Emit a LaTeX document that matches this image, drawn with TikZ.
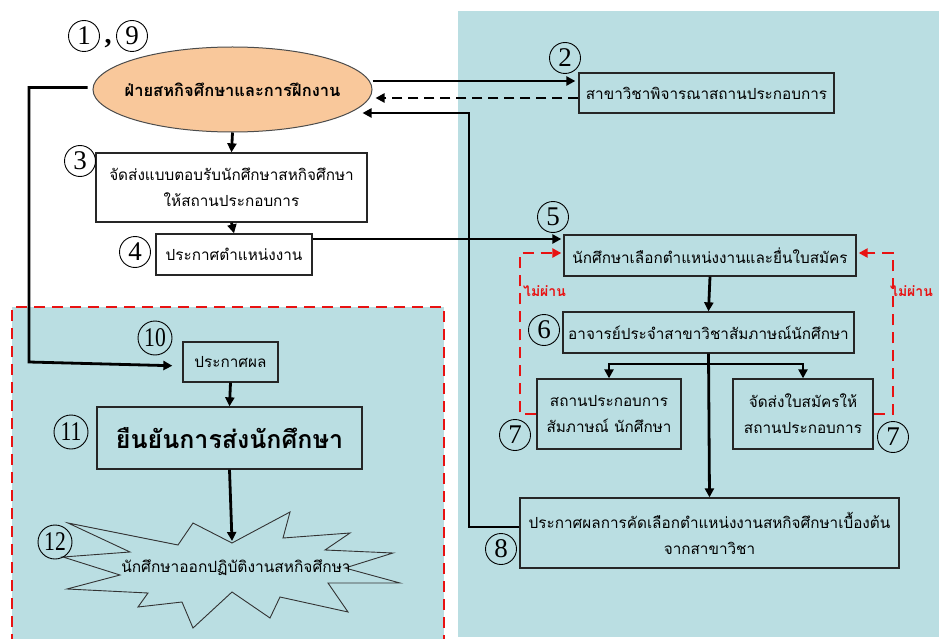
\documentclass[tikz,border=0pt]{standalone}
\usepackage{fontspec}
\setmainfont{Liberation Serif}
\newfontfamily\thaifont[Script=Thai]{Loma}
\usetikzlibrary{arrows.meta,shapes.geometric}
\definecolor{panel}{RGB}{186,222,226}
\definecolor{peach}{RGB}{249,200,155}
\definecolor{dashred}{RGB}{232,18,18}
\tikzset{
  box/.style={draw=black!85,line width=1.3pt,inner sep=2pt,align=center,
    font=\thaifont\fontsize{15.3}{26}\selectfont},
  conn/.style={line width=2.8pt,-{Triangle[length=9pt,width=9pt]}},
  redconn/.style={draw=dashred,line width=2.8pt,dash pattern=on 11pt off 7pt,
    -{Triangle[length=9pt,width=9pt]}},
  numc/.style={circle,draw=black,line width=0.9pt,inner sep=0pt,minimum size=31pt,
    font=\fontsize{27}{27}\selectfont},
  numcc/.style={numc,minimum size=34pt},
  redlbl/.style={text=dashred,anchor=west,inner sep=0pt,
    font=\thaifont\bfseries\fontsize{14}{14}\selectfont}
}
\begin{document}
\begin{tikzpicture}[x=1pt,y=-1pt]
\useasboundingbox (0,0) rectangle (939,639);
\fill[white] (0,0) rectangle (939,639);
% panels
\fill[panel] (458,11) rectangle (939,637);
\fill[panel] (12,307) rectangle (444,645);
\draw[dashred,line width=2.8pt,dash pattern=on 11pt off 7pt] (12,645) -- (12,307) -- (444,307) -- (444,645);

% nodes left column
\node[ellipse,draw=black!70,line width=1pt,fill=peach,inner sep=0pt,minimum width=279pt,minimum height=85pt] (ell) at (232.5,89.5) {};
\node[font=\thaifont\bfseries\fontsize{16.5}{16.5}\selectfont,inner sep=0pt] (tell) at (ell.center) {ฝ่ายสหกิจศึกษาและการฝึกงาน};
\node[box,minimum width=271pt,minimum height=69pt] (b3) at (231.5,187.5) {จัดส่งแบบตอบรับนักศึกษาสหกิจศึกษา\\ให้สถานประกอบการ};
\node[box,minimum width=156pt,minimum height=41pt] (b4) at (234,254.5) {ประกาศตำแหน่งงาน};
\node[box,minimum width=95pt,minimum height=40pt] (b10) at (230.5,362) {ประกาศผล};
\node[box,minimum width=265pt,minimum height=62pt,font=\thaifont\bfseries\fontsize{25}{25}\selectfont] (b11) at (229.5,438) {ยืนยันการส่งนักศึกษา};

% star 12
\draw[draw=black!80,line width=0.9pt] (68,523) -- (178,545) -- (193,523) -- (232,543) -- (290,512) -- (283,538) -- (350,533) -- (325,550) -- (393,553) -- (345,568) -- (400,583) -- (328,583) -- (348,612) -- (280,597) -- (270,618) -- (232,592) -- (193,628) -- (182,602) -- (138,607) -- (148,593) -- (67,589) -- (120,575) -- (63,557) -- (130,552) -- cycle;
\coordinate (s12) at (232,541);
\node[font=\thaifont\fontsize{15.5}{15.5}\selectfont,inner sep=0pt] (t12) at (236,568) {นักศึกษาออกปฏิบัติงานสหกิจศึกษา};

% right column
\node[box,minimum width=255pt,minimum height=40pt] (b2) at (706.5,93) {สาขาวิชาพิจารณาสถานประกอบการ};
\node[box,minimum width=292pt,minimum height=41pt] (b5) at (710,255.5) {นักศึกษาเลือกตำแหน่งงานและยื่นใบสมัคร};
\node[box,minimum width=291pt,minimum height=41pt] (b6) at (708.5,332.5) {อาจารย์ประจำสาขาวิชาสัมภาษณ์นักศึกษา};
\node[box,minimum width=144pt,minimum height=70pt] (b7a) at (609,414) {สถานประกอบการ\\สัมภาษณ์ นักศึกษา};
\node[box,minimum width=140pt,minimum height=70pt] (b7b) at (803,414) {จัดส่งใบสมัครให้\\สถานประกอบการ};
\node[box,minimum width=379pt,minimum height=70pt] (b8) at (709.5,533) {ประกาศผลการคัดเลือกตำแหน่งงานสหกิจศึกษาเบื้องต้น\\จากสาขาวิชา};

% circled numbers
\node[numc] (n1) at (84,36) {1};
\node[font=\bfseries\fontsize{28}{28}\selectfont,inner sep=0pt,anchor=base] (ncomma) at (108,44) {,};
\node[numc] (n9) at (132,36) {9};
\node[numc] (n2) at (565,58) {2};
\node[numc] (n3) at (80,161) {3};
\node[numc] (n4) at (135,252) {4};
\node[numc] (n5) at (553,217) {5};
\node[numc] (n6) at (544,330) {6};
\node[numc] (n7a) at (515,435) {7};
\node[numc] (n7b) at (893,437) {7};
\node[numc] (n8) at (501,549) {8};
\node[numcc] (n10) at (155,338) {\scalebox{0.8}[1]{10}};
\node[numcc] (n11) at (71,432) {\scalebox{0.8}[1]{11}};
\node[numcc] (n12) at (55,542) {\scalebox{0.8}[1]{12}};

% red labels
\node[redlbl] (l1) at (523,291) {ไม่ผ่าน};
\node[redlbl] (l2) at (890,291) {ไม่ผ่าน};

% connectors
\coordinate (c10) at (29,362);
\coordinate (c8) at (469,113);
\coordinate (j6) at (713,364);
\coordinate (r1) at (520,253);
\coordinate (r2) at (893,253);

\draw[conn] ([yshift=8.5pt]ell.east) -- ([yshift=12pt,xshift=-3pt]b2.west);
\draw[conn,dash pattern=on 10pt off 6pt] ([yshift=-5pt]b2.west) -- ([yshift=-8.5pt,xshift=3pt]ell.east);
\draw[conn] ([yshift=6pt]b8.west) -| (c8) -- ([xshift=-10pt]ell.east |- c8);
\draw[conn] (ell.south) -- (b3.north);
\draw[conn] (b3.south) -- (b4.north);
\draw[conn] ([yshift=15.5pt]b4.east) -- ([yshift=16.5pt,xshift=-2pt]b5.west);
\draw[conn,shorten >=10pt] ([xshift=-5pt,yshift=2pt]ell.west) -| (c10) -- ([yshift=-4pt]b10.west);
\draw[conn] (b10.south) -- (b11.north);
\draw[conn] (b11.south) -- (s12);
\draw[conn] (b5.south) -- (b6.north);
\draw[conn] (b6.south) -- (b8.north);
\draw[conn] (j6) -| (b7a.north);
\draw[conn] (j6) -| (b7b.north);
\draw[redconn] (b7a.west) -| (r1) -- ([yshift=2.5pt,xshift=-2pt]b5.west);
\draw[redconn] (b7b.east) -| (r2) -- ([yshift=2.5pt,xshift=2pt]b5.east);
\end{tikzpicture}
\end{document}
